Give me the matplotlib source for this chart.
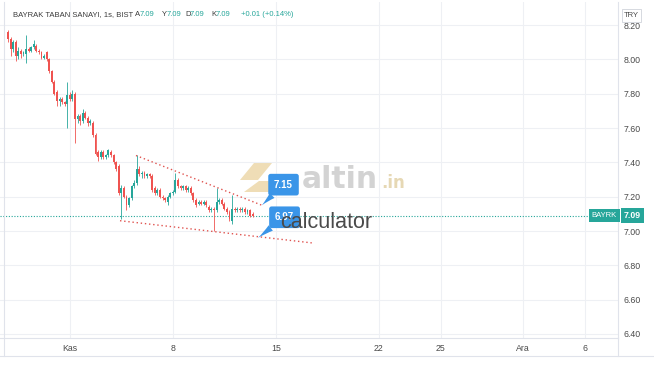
import numpy as np
import matplotlib.pyplot as plt
from matplotlib.lines import Line2D
from matplotlib.patches import Rectangle, Polygon

plt.rc('font', family=['Liberation Sans', 'DejaVu Sans'], size=6.3)

# hourly candles, 8 bars per trading day (oldest first)
opens = [8.16, 8.12, 8.06, 8.10, 8.02, 8.05, 8.03, 8.03, 8.06, 8.05, 8.07, 8.08,
         8.05, 8.04, 8.01, 8.04, 8.00, 7.93, 7.87, 7.81, 7.76, 7.77, 7.75, 7.74,
         7.79, 7.77, 7.80, 7.65, 7.67, 7.64, 7.69, 7.66, 7.63, 7.63, 7.56, 7.46,
         7.43, 7.46, 7.43, 7.44, 7.46, 7.44, 7.40, 7.38, 7.22, 7.25, 7.20, 7.15,
         7.19, 7.26, 7.28, 7.36, 7.33, 7.34, 7.32, 7.33, 7.32, 7.25, 7.22, 7.24,
         7.20, 7.19, 7.17, 7.20, 7.22, 7.23, 7.30, 7.26, 7.25, 7.26, 7.24, 7.25,
         7.22, 7.18, 7.16, 7.17, 7.16, 7.17, 7.14, 7.12, 7.13, 7.12, 7.17, 7.18,
         7.16, 7.13, 7.11, 7.06, 7.13, 7.12, 7.13, 7.12, 7.13, 7.11, 7.12, 7.10]
highs = [8.17, 8.13, 8.11, 8.11, 8.07, 8.06, 8.05, 8.14, 8.07, 8.08, 8.11, 8.09,
         8.06, 8.05, 8.03, 8.05, 8.01, 7.94, 7.88, 7.82, 7.78, 7.78, 7.76, 7.87,
         7.81, 7.82, 7.81, 7.68, 7.68, 7.71, 7.70, 7.67, 7.65, 7.64, 7.57, 7.47,
         7.47, 7.47, 7.45, 7.48, 7.47, 7.45, 7.41, 7.39, 7.27, 7.26, 7.21, 7.20,
         7.27, 7.30, 7.44, 7.38, 7.35, 7.35, 7.34, 7.34, 7.33, 7.26, 7.25, 7.25,
         7.21, 7.20, 7.21, 7.23, 7.24, 7.34, 7.31, 7.27, 7.27, 7.27, 7.26, 7.26,
         7.23, 7.19, 7.18, 7.18, 7.18, 7.18, 7.15, 7.14, 7.14, 7.25, 7.19, 7.19,
         7.17, 7.14, 7.12, 7.21, 7.14, 7.14, 7.14, 7.14, 7.14, 7.13, 7.13, 7.11]
lows = [8.10, 8.02, 8.04, 7.99, 8.00, 8.01, 8.02, 7.98, 8.04, 8.04, 8.06, 8.04,
        8.03, 8.00, 8.00, 7.99, 7.92, 7.86, 7.79, 7.73, 7.73, 7.74, 7.73, 7.60,
        7.76, 7.76, 7.51, 7.63, 7.62, 7.63, 7.65, 7.61, 7.62, 7.55, 7.44, 7.41,
        7.42, 7.42, 7.42, 7.43, 7.43, 7.39, 7.35, 7.21, 7.07, 7.19, 7.12, 7.14,
        7.18, 7.25, 7.27, 7.32, 7.31, 7.31, 7.31, 7.31, 7.23, 7.21, 7.21, 7.19,
        7.18, 7.17, 7.15, 7.19, 7.21, 7.22, 7.25, 7.24, 7.24, 7.23, 7.23, 7.21,
        7.17, 7.14, 7.15, 7.15, 7.15, 7.14, 7.11, 7.11, 7.00, 7.11, 7.16, 7.15,
        7.12, 7.10, 7.06, 7.04, 7.11, 7.11, 7.11, 7.11, 7.10, 7.10, 7.08, 7.08]
closes = [8.12, 8.06, 8.10, 8.02, 8.05, 8.03, 8.04, 8.06, 8.05, 8.07, 8.09, 8.05,
          8.04, 8.01, 8.02, 8.00, 7.93, 7.87, 7.80, 7.76, 7.77, 7.75, 7.74, 7.79,
          7.77, 7.80, 7.65, 7.67, 7.64, 7.69, 7.66, 7.63, 7.64, 7.56, 7.45, 7.43,
          7.46, 7.43, 7.44, 7.47, 7.44, 7.40, 7.36, 7.22, 7.25, 7.20, 7.15, 7.19,
          7.26, 7.28, 7.36, 7.33, 7.34, 7.32, 7.33, 7.32, 7.24, 7.22, 7.24, 7.20,
          7.19, 7.18, 7.20, 7.22, 7.23, 7.30, 7.26, 7.25, 7.26, 7.24, 7.25, 7.22,
          7.18, 7.15, 7.17, 7.16, 7.17, 7.15, 7.12, 7.13, 7.12, 7.17, 7.18, 7.16,
          7.13, 7.11, 7.07, 7.13, 7.12, 7.13, 7.12, 7.13, 7.11, 7.12, 7.09, 7.09]

last_price = 7.09
bars_per_day = 8
day_ticks = [3, 8, 13, 18, 21, 25, 28]          # trading day index of each date label
day_labels = ['Kas', '8', '15', '22', '25', 'Ara', '6']
price_ticks = [6.40, 6.60, 6.80, 7.00, 7.20, 7.40, 7.60, 7.80, 8.00, 8.20]

# drawn trend lines (bar index, price)
upper_x, upper_y = [49.7, 98.6], [7.44, 7.15]
lower_x, lower_y = [43.5, 118.4], [7.06, 6.93]
callouts = [('7.15', 98.6, 7.15, 107.0, 7.27), ('6.97', 97.1, 6.96, 107.4, 7.08)]

header = [('BAYRAK TABAN SANAYI, 1s, BIST', 13, '#3b3b3b'),
          ('A', 135, '#3b3b3b'), ('7.09', 140, '#26a69a'),
          ('Y', 162, '#3b3b3b'), ('7.09', 167, '#26a69a'),
          ('D', 185, '#3b3b3b'), ('7.09', 190, '#26a69a'),
          ('K', 211, '#3b3b3b'), ('7.09', 216, '#26a69a'),
          ('+0.01 (+0.14%)', 241, '#26a69a')]

UP, DOWN = '#26a69a', '#ef5350'
LINE = '#e0e3eb'
W, H = 654, 366

def fx(x):
    return x / W

def fy(y):
    return 1 - y / H

fig = plt.figure(figsize=(W / 100, H / 100), dpi=100, facecolor='white')
ax = fig.add_axes([0, fy(338), fx(618), (338 - 2) / H])
ax.set_facecolor('none')

o = np.array(opens); h = np.array(highs); l = np.array(lows); c = np.array(closes)
idx = np.arange(len(o))
cols = np.where(c >= o, UP, DOWN)
ax.vlines(idx, l, h, colors=cols, lw=0.6, zorder=3)
ax.bar(idx, np.maximum(np.abs(c - o), 0.004), bottom=np.minimum(o, c), width=0.72,
       color=cols, zorder=3)

# trend lines + callouts
ax.plot(upper_x, upper_y, color='#e0534f', lw=1.0, ls=(0, (1, 2)), zorder=4)
ax.plot(lower_x, lower_y, color='#e0534f', lw=1.0, ls=(0, (1, 2)), zorder=4)
for txt, x0, y0, x1, y1 in callouts:
    ax.annotate(txt, xy=(x0, y0), xytext=(x1, y1), ha='center', va='center',
                color='white', fontsize=7, fontweight='bold', zorder=6,
                bbox=dict(boxstyle='round,pad=0.6,rounding_size=0.25', fc='#3a95e8', ec='none'),
                arrowprops=dict(arrowstyle='wedge,tail_width=0.7,shrink_factor=0.4',
                                fc='#3a95e8', ec='none', shrinkA=0, shrinkB=0))

ax.axhline(last_price, color=UP, lw=0.8, ls=(0, (1, 1.5)), zorder=2)

ax.set_xlim(-8 / 2.575, (618 - 8) / 2.575)
ax.set_ylim(6.40 - 4 / 171.5, 8.20 + 23 / 171.5)
ax.set_xticks([d * bars_per_day for d in day_ticks])
ax.set_xticklabels(day_labels)
ax.yaxis.tick_right()
ax.set_yticks(price_ticks)
ax.set_yticklabels(['%.2f' % p for p in price_ticks])
ax.tick_params(axis='x', length=0, pad=4.5, colors='#4a4a4a')
ax.tick_params(axis='y', length=0, pad=4, colors='#4a4a4a')
ax.grid(color='#eef0f4', lw=0.8, zorder=0)
for s in ['top', 'left']:
    ax.spines[s].set_visible(False)
for s in ['right', 'bottom']:
    ax.spines[s].set_color(LINE)
    ax.spines[s].set_linewidth(0.8)

# last price tags
ax.annotate('BAYRK', xy=(1, last_price), xycoords=('axes fraction', 'data'),
            xytext=(-1, 0), textcoords='offset pixels', ha='right', va='center',
            color='white', fontsize=5.5, zorder=7,
            bbox=dict(boxstyle='square,pad=0.35', fc=UP, ec='none'))
ax.annotate('%.2f' % last_price, xy=(1, last_price), xycoords=('axes fraction', 'data'),
            xytext=(6, 0), textcoords='offset pixels', ha='left', va='center',
            color='white', fontsize=6.3, fontweight='bold', annotation_clip=False,
            bbox=dict(boxstyle='square,pad=0.35', fc=UP, ec='none'))

# frame of time axis band
fig.add_artist(Line2D([0, 1], [fy(356), fy(356)], color=LINE, lw=0.8))
fig.add_artist(Line2D([fx(618), fx(618)], [fy(338), fy(356)], color=LINE, lw=0.8))
fig.add_artist(Line2D([fx(4), fx(4)], [fy(2), fy(356)], color=LINE, lw=0.8))

# header
for txt, x, col in header:
    fig.text(fx(x), fy(15), txt, color=col, fontsize=5.5, va='center', ha='left')

# currency box
fig.add_artist(Rectangle((fx(622), fy(22)), fx(19), 13 / H, fc='white', ec='#d0d3da', lw=0.6))
fig.text(fx(631.5), fy(15.5), 'TRY', fontsize=5.5, color='#4a4a4a', ha='center', va='center')

# watermark (behind the chart marks, "calculator" on top)
fig.add_artist(Polygon([(fx(254), fy(163)), (fx(272), fy(163)), (fx(258), fy(180)), (fx(240), fy(180))],
                       fc='#e2c27a', alpha=0.55, ec='none', zorder=-1))
fig.add_artist(Polygon([(fx(244), fy(192)), (fx(259), fy(181)), (fx(272), fy(181)), (fx(272), fy(192))],
                       fc='#e2c27a', alpha=0.55, ec='none', zorder=-1))
fig.text(fx(302), fy(188), 'altin', fontsize=21.5, fontweight='bold', color='#d3d3d3',
         family='DejaVu Sans', va='baseline', zorder=-1)
fig.text(fx(381), fy(188), '.in', fontsize=12, fontweight='bold', color='#e6d8b4',
         family='DejaVu Sans', va='baseline', zorder=-1)
fig.text(fx(280), fy(228), 'calculator', fontsize=15.5, color='#4a4a4a', va='baseline', zorder=8)

fig.savefig('out.png', dpi=100, facecolor='white')
